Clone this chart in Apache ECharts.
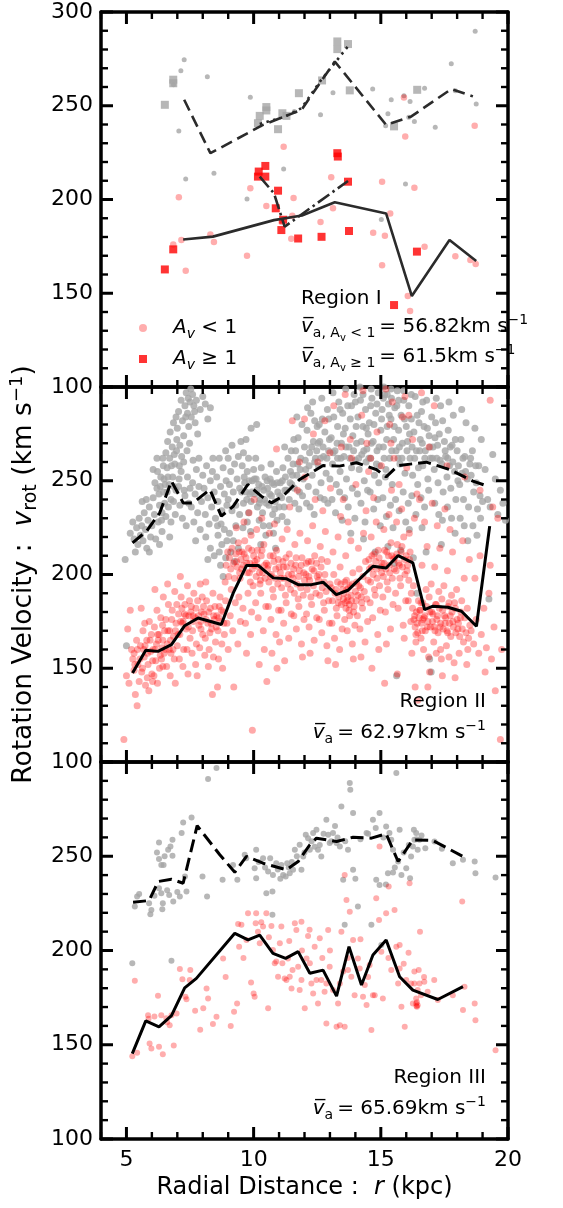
<!DOCTYPE html>
<html><head><meta charset="utf-8">
<script src="https://cdn.jsdelivr.net/npm/echarts@6/dist/echarts.min.js"></script>
<style>html,body{margin:0;padding:0;background:#fff}#c{width:563px;height:1208px}</style>
</head><body><div id="c"></div>
<script>
// ---------- tick labels / tick positions ----------
const xTickLabels = [5, 10, 15, 20];
const yTickValues = [100, 150, 200, 250, 300];
const xMinorTicks = [4,5,6,7,8,9,10,11,12,13,14,15,16,17,18,19,20];
const yMinorTicks = [100,110,120,130,140,150,160,170,180,190,200,210,220,230,240,250,260,270,280,290,300];

// ---------- Region I (top) ----------
const topGreyCircles = [[7.27,274.5],[7.14,268.7],[6.85,261.2],[7.06,236.6],[7.33,211],[8.18,265.5],[8.44,214],[9.87,254.6],[9.74,200.3],[11.18,216.3],[12.63,245.2],[13.12,256.9],[14.68,258.9],[15.02,189.4],[15.19,239.3],[15.28,245.7],[15.41,253.2],[15.91,255.3],[15.97,208.3],[16.15,252.3],[16.1,243.9],[16.32,241.6],[16.72,259.4],[17.14,238.6],[17.77,272.4],[17.93,258],[18.71,289.7],[18.75,250.9],[11.6,247]];
const topGreySquares = [[6.51,250.5],[6.84,263.9],[6.84,262],[10.24,244.6],[10.17,240.7],[10.5,249.3],[10.5,247.5],[10.96,237.5],[11.13,246],[11.29,244.6],[11.78,256.7],[12.69,263.5],[13.29,284.3],[13.29,280.2],[13.71,282.9],[13.78,258.2],[15.52,239],[16.43,258.5]];
const topPinkCircles = [[7.06,201.2],[6.84,176],[7.16,178.4],[7.33,162],[8.3,181.4],[8.44,177.3],[9.87,206],[9.74,170],[10.5,196.5],[11.18,228.2],[11.57,200.8],[11.52,191.4],[11.48,179.1],[12.63,188],[13.12,195.3],[13.05,211.9],[14.7,182.3],[15.16,180.7],[15.05,209.5],[15.05,165],[15.37,192.6],[15.91,254.4],[15.96,233.6],[16.32,206.3],[16.06,148.6],[16.15,140.6],[16.72,174.8],[17.93,169.7],[18.52,167.7],[18.73,165.6],[18.69,239.3],[11.1,188]];
const topRedSquares = [[6.51,162.7],[6.84,173.4],[10.17,212.2],[10.2,214.9],[10.46,217.9],[10.46,212.2],[10.96,204.7],[10.87,195.3],[11.09,183.7],[11.16,189.2],[11.75,179.2],[12.67,180.1],[13.29,224.7],[13.31,222.9],[13.71,209.5],[13.75,183.2],[15.52,143.7],[16.42,172.2]];
const topDashed = [[7.27,253.2],[8.3,224.7],[10.37,239.8],[11.88,247.8],[13.19,273.6],[15.21,239.8],[16.2,244.3],[17.77,258.9],[18.62,255]];
const topDotted = [[10.24,240.3],[11.2,244],[11.88,248.7],[12.66,263.9],[13.19,272.8],[13.71,281.7]];
const topSolid = [[7.23,178.7],[8.4,180.2],[10.8,189],[11.9,191.5],[13.19,198.5],[15.21,192.5],[16.22,148.5],[17.7,178.4],[18.75,167.2]];
const topDashDot = [[10.24,212.2],[10.8,203.3],[11.22,185.5],[13.71,209.9]];

// ---------- Region II (middle) ----------
const midGrey = [[4.95,208],[5.0,162],[5.15,222],[5.25,228],[5.3,219],[5.4,225],[5.45,216],[5.5,230],[5.35,212],
[5.55,221],[5.6,226],[5.65,218],[5.7,233],[5.75,224],[5.8,214],[5.85,229],[5.9,236],[5.95,220],[5.62,239],[5.78,240],[5.9,212],
[6.0,226],[6.05,241],[6.1,232],[6.15,219],[6.2,246],[6.25,228],[6.3,237],[6.35,252],[6.4,223],[6.45,244],[6.05,256],[6.2,262],[6.3,216],[6.4,233],[6.45,258],[6.5,238],[6.12,249],[6.28,243],[6.38,229],[6.48,251],
[6.55,265],[6.6,257],[6.62,271],[6.68,248],[6.7,262],[6.72,276],[6.75,240],[6.8,268],[6.82,252],[6.85,281],[6.9,259],[6.95,245],[6.98,272],[6.55,231],[6.65,236],[6.75,228],[6.85,239],[6.92,232],[6.6,244],[6.88,264],[6.7,220],[6.95,284],
[7.0,278],[7.05,287],[7.1,269],[7.15,293],[7.2,282],[7.25,274],[7.3,290],[7.35,297],[7.4,286],[7.45,279],[7.5,292],[7.05,247],[7.1,237],[7.15,255],[7.2,230],[7.3,242],[7.35,226],[7.4,252],[7.45,238],[7.5,246],[7.25,260],[7.38,266],[7.08,258],[7.48,270],
[7.55,284],[7.6,296],[7.65,290],[7.7,281],[7.75,293],[7.8,275],[7.9,288],[8.0,295],[7.55,236],[7.6,249],[7.65,228],[7.7,243],[7.75,256],[7.8,233],[7.85,247],[7.9,224],[7.95,239],[8.0,253],[7.62,261],[7.85,262],[7.72,218],
[8.1,291],[8.2,283],[8.3,289],[8.05,246],[8.1,232],[8.15,258],[8.2,241],[8.25,227],[8.3,250],[8.35,236],[8.4,262],[8.45,244],[8.5,230],[8.12,220],[8.3,214],[8.45,210],[8.2,208],[8.38,255],
[8.55,252],[8.6,239],[8.65,262],[8.7,247],[8.75,234],[8.8,257],[8.85,243],[8.9,266],[8.95,237],[8.6,221],[8.65,212],[8.7,205],[8.75,216],[8.8,199],[8.85,224],[8.9,209],[8.95,218],[8.58,226],[8.72,227],[8.92,250],
[9.0,262],[9.05,248],[9.1,255],[9.15,269],[9.2,244],[9.25,259],[9.3,237],[9.35,251],[9.4,263],[9.45,246],[9.5,271],[9.05,222],[9.1,212],[9.2,218],[9.3,226],[9.4,214],[9.15,234],[9.45,232],[9.25,207],[9.0,240],
[9.55,258],[9.6,265],[9.65,249],[9.7,272],[9.75,255],[9.8,262],[9.85,243],[9.9,278],[9.95,250],[9.6,238],[9.7,244],[9.8,233],[9.9,239],[10.0,256],[9.58,225],[9.75,228],[9.88,223],
[10.05,243],[10.1,251],[10.15,236],[10.2,248],[10.25,240],[10.3,257],[10.35,233],[10.4,245],[10.45,252],[10.5,238],[10.08,262],[10.22,229],[10.38,226],[10.12,280],[10.48,221],[10.28,216],
[10.55,246],[10.6,237],[10.65,251],[10.7,242],[10.75,232],[10.8,248],[10.85,239],[10.9,255],[10.95,244],[11.0,236],[10.62,226],[10.78,222],[10.92,229],[10.68,259],[10.86,214],
[11.05,249],[11.1,241],[11.15,257],[11.2,236],[11.25,252],[11.3,245],[11.35,262],[11.4,240],[11.45,255],[11.5,248],[11.12,231],[11.32,228],[11.48,266],[11.22,268],
[11.55,259],[11.6,246],[11.65,266],[11.7,253],[11.75,273],[11.8,244],[11.85,262],[11.9,280],[11.95,251],[12.0,268],[11.62,238],[11.78,235],[11.92,242],[11.7,284],[11.58,272],
[12.05,256],[12.1,277],[12.15,247],[12.2,265],[12.25,286],[12.3,253],[12.35,271],[12.4,260],[12.45,244],[12.5,279],[12.08,238],[12.22,236],[12.38,232],[12.48,266],[12.12,289],[12.32,292],
[12.55,258],[12.6,271],[12.65,249],[12.7,283],[12.75,263],[12.8,276],[12.85,254],[12.9,288],[12.95,266],[13.0,251],[12.62,241],[12.78,240],[12.92,238],[12.68,294],[12.58,280],
[13.05,273],[13.1,259],[13.15,284],[13.2,266],[13.25,248],[13.3,279],[13.35,292],[13.4,255],[13.45,270],[13.5,286],[13.08,240],[13.22,233],[13.38,244],[13.48,229],[13.12,297],[13.3,262],
[13.55,263],[13.6,278],[13.65,251],[13.7,290],[13.75,268],[13.8,283],[13.85,257],[13.9,274],[13.95,296],[14.0,261],[13.58,241],[13.72,236],[13.88,246],[13.98,230],[13.62,299],[13.82,222],
[14.05,270],[14.1,284],[14.15,256],[14.2,293],[14.25,264],[14.3,279],[14.35,250],[14.4,288],[14.45,267],[14.5,275],[14.08,243],[14.22,238],[14.38,228],[14.48,245],[14.18,300],[14.32,219],[14.42,260],
[14.55,281],[14.6,262],[14.65,294],[14.7,271],[14.75,253],[14.8,286],[14.85,266],[14.9,297],[14.95,258],[15.0,277],[14.58,244],[14.72,235],[14.88,240],[14.98,226],[14.62,299],[14.78,212],[14.92,249],
[15.05,288],[15.1,268],[15.15,296],[15.2,256],[15.25,279],[15.3,291],[15.35,262],[15.4,283],[15.45,248],[15.5,272],[15.08,241],[15.22,231],[15.38,237],[15.48,225],[15.12,300],[15.28,215],[15.42,294],[15.18,252],
[15.55,289],[15.6,266],[15.65,298],[15.7,277],[15.75,259],[15.8,285],[15.85,270],[15.9,293],[15.95,254],[16.0,279],[15.58,240],[15.72,234],[15.88,244],[15.98,228],[15.62,146],[15.52,206],[15.78,213],[15.68,262],
[16.05,271],[16.1,290],[16.15,262],[16.2,283],[16.25,253],[16.3,276],[16.35,295],[16.4,266],[16.45,248],[16.5,281],[16.08,238],[16.22,242],[16.38,232],[16.48,257],[16.12,224],[16.28,209],[16.42,190],
[16.55,272],[16.6,287],[16.65,258],[16.7,279],[16.75,266],[16.8,293],[16.85,251],[16.9,274],[16.95,262],[17.0,284],[16.58,241],[16.72,236],[16.88,245],[16.62,225],[16.78,212],[16.92,155],[16.98,148],
[17.05,268],[17.1,256],[17.15,281],[17.2,262],[17.25,249],[17.3,275],[17.35,290],[17.4,259],[17.45,244],[17.5,271],[17.12,238],[17.28,232],[17.42,229],[17.18,294],[17.38,216],
[17.55,263],[17.6,252],[17.65,277],[17.7,258],[17.75,246],[17.8,269],[17.85,285],[17.9,255],[17.95,240],[18.0,266],[17.62,236],[17.78,230],[17.92,222],[17.68,292],
[18.05,258],[18.1,248],[18.15,272],[18.2,254],[18.25,240],[18.3,263],[18.35,281],[18.4,251],[18.45,236],[18.5,259],[18.12,230],[18.28,226],[18.42,218],[18.18,288],
[18.55,253],[18.6,266],[18.65,244],[18.7,278],[18.75,249],[18.8,235],[18.85,258],[18.9,242],[18.95,272],[19.0,239],[18.62,226],[18.78,221],[18.92,230],
[19.1,256],[19.2,240],[19.3,236],[19.5,251],[19.6,232],[19.7,245],[19.8,238],[19.4,264],[19.25,187],[19.9,229],
[6.22,255],[6.33,247],[6.43,262],[6.52,248],[6.63,252],[6.77,258],[6.87,247],[6.97,266],[7.07,251],[7.17,263],[7.27,245],[7.33,284],[7.43,294],[7.53,299],[7.68,287],[9.53,244],[9.63,252],[9.73,240],[9.83,250],[9.93,244],[10.03,251],[10.13,245],[10.23,238],[10.33,247],[10.43,240],[10.53,250],[10.63,243],[10.73,249],[10.83,235],[10.93,249],[11.03,242],[11.13,250],[11.23,245],[11.43,249],[11.53,253],[11.73,259],[11.83,256],[12.03,261],[12.18,258],[12.28,268],[12.43,262],[12.53,270],[12.63,262],[12.73,268],[12.88,262],[12.98,272],[13.13,265],[13.28,270],[13.43,262],[13.53,275],[13.63,268],[13.78,262],[13.93,266],[14.03,279],[14.13,262],[14.23,271],[14.33,266],[14.43,278],[14.53,262],[14.63,270],[14.73,280],[14.83,259],[14.93,268],[15.03,283],[15.13,262],[15.23,272],[15.33,285],[15.43,266],[15.53,279],[15.63,290],[15.73,268],[15.83,262],[15.93,283],[16.03,266],[16.13,275],[16.23,268],[16.33,262],[16.43,285],[16.53,266],[16.63,270],[16.73,262],[16.83,278],[16.93,268],[17.03,262],[17.13,273],[17.23,269],[17.33,261],[17.43,282],[17.53,266],[17.63,262],[17.73,268],[17.83,260],[17.93,272],[18.03,250],[18.23,262],[18.33,255],[18.53,262],[18.73,258],[14.0,292],[14.6,290],[15.1,294],[15.7,293],[15.4,299],[14.3,296],[13.4,288],[12.95,283],[12.4,282],[16.2,296],[16.65,292],[13.85,290],[15.9,298],[14.85,291],[15.25,296]];

const midRed = [[4.9,112],[5.0,146],[5.05,171],[5.1,142],[5.2,160],[5.25,155],[5.3,149],[5.35,136],[5.4,165],[5.45,152],[5.5,143],[5.15,181],[5.3,158],[5.42,130],
[5.55,162],[5.6,148],[5.65,170],[5.7,156],[5.75,141],[5.8,165],[5.85,152],[5.9,175],[5.95,159],[6.0,147],[5.58,182],[5.72,174],[5.88,138],[5.68,160],[5.82,145],[5.98,168],
[6.05,160],[6.1,172],[6.15,154],[6.2,181],[6.25,165],[6.3,150],[6.35,177],[6.4,161],[6.45,188],[6.5,170],[6.08,146],[6.22,142],[6.38,155],[6.48,158],[6.12,192],[6.28,168],[6.42,173],[6.18,163],
[6.55,176],[6.6,163],[6.65,184],[6.7,170],[6.75,158],[6.8,181],[6.85,167],[6.9,191],[6.95,174],[7.0,162],[6.58,151],[6.72,146],[6.88,155],[6.98,184],[6.62,195],[6.78,176],[6.92,142],[6.68,160],
[7.05,179],[7.1,168],[7.15,188],[7.2,174],[7.25,160],[7.3,184],[7.35,171],[7.4,194],[7.45,178],[7.5,166],[7.08,155],[7.22,151],[7.38,160],[7.48,186],[7.12,199],[7.28,179],[7.42,147],[7.18,182],
[7.55,183],[7.6,170],[7.65,190],[7.7,177],[7.75,163],[7.8,186],[7.85,173],[7.9,195],[7.95,180],[8.0,168],[7.58,158],[7.72,152],[7.88,161],[7.98,188],[7.62,178],[7.78,146],[7.92,175],
[8.05,179],[8.1,166],[8.15,186],[8.2,174],[8.25,160],[8.3,182],[8.35,171],[8.4,190],[8.45,176],[8.5,164],[8.08,157],[8.22,151],[8.38,136],[8.48,183],[8.12,196],[8.28,169],[8.42,156],
[8.55,178],[8.6,170],[8.65,183],[8.7,175],[8.75,163],[8.8,180],[8.85,168],[8.9,186],[8.95,174],[9.0,160],[8.62,155],[8.78,150],[8.92,205],[8.98,212],[8.68,188],[8.88,196],[8.58,140],
[9.05,209],[9.1,203],[9.15,214],[9.2,206],[9.25,198],[9.3,211],[9.35,204],[9.4,217],[9.45,201],[9.5,208],[9.08,178],[9.18,170],[9.28,185],[9.38,163],[9.48,175],[9.12,192],[9.32,225],[9.42,188],[9.22,140],[9.02,199],
[9.55,212],[9.6,205],[9.65,218],[9.7,209],[9.75,201],[9.8,214],[9.85,206],[9.9,221],[9.95,203],[10.0,210],[9.58,182],[9.68,174],[9.78,190],[9.88,168],[9.98,194],[9.62,228],[9.82,233],[9.72,158],[9.92,180],[9.95,117],
[10.05,207],[10.1,199],[10.15,213],[10.2,204],[10.25,195],[10.3,210],[10.35,201],[10.4,216],[10.45,198],[10.5,206],[10.08,185],[10.18,177],[10.28,190],[10.38,170],[10.48,183],[10.12,224],[10.32,230],[10.42,160],[10.22,152],[10.02,240],
[10.55,203],[10.6,196],[10.65,210],[10.7,200],[10.75,192],[10.8,207],[10.85,198],[10.9,213],[10.95,195],[11.0,204],[10.58,183],[10.68,176],[10.78,188],[10.88,168],[10.98,181],[10.62,222],[10.82,227],[10.72,158],[10.92,150],[10.52,143],
[11.05,201],[11.1,193],[11.15,207],[11.2,198],[11.25,189],[11.3,204],[11.35,195],[11.4,211],[11.45,192],[11.5,200],[11.08,181],[11.18,174],[11.28,185],[11.38,166],[11.48,179],[11.12,219],[11.32,224],[11.42,236],[11.22,154],[11.02,164],
[11.55,198],[11.6,190],[11.65,205],[11.7,195],[11.75,187],[11.8,202],[11.85,193],[11.9,209],[11.95,189],[12.0,197],[11.58,178],[11.68,171],[11.78,183],[11.88,163],[11.98,176],[11.62,216],[11.82,222],[11.72,245],[11.92,156],[11.52,282],
[12.05,200],[12.1,192],[12.15,207],[12.2,197],[12.25,188],[12.3,203],[12.35,194],[12.4,210],[12.45,190],[12.5,199],[12.08,179],[12.18,172],[12.28,184],[12.38,165],[12.48,177],[12.12,218],[12.32,226],[12.42,240],[12.22,158],[12.02,252],[12.35,275],
[12.55,197],[12.6,189],[12.65,204],[12.7,193],[12.75,185],[12.8,200],[12.85,191],[12.9,207],[12.95,186],[13.0,195],[12.58,176],[12.68,169],[12.78,181],[12.88,162],[12.98,174],[12.62,215],[12.82,223],[12.72,234],[12.92,154],[12.52,260],[12.8,282],
[13.05,193],[13.1,186],[13.15,200],[13.2,190],[13.25,182],[13.3,196],[13.35,188],[13.4,204],[13.45,184],[13.5,192],[13.08,174],[13.18,166],[13.28,178],[13.38,160],[13.48,171],[13.12,212],[13.32,220],[13.42,231],[13.22,152],[13.02,246],[13.45,268],[13.15,290],
[13.55,190],[13.6,185],[13.65,197],[13.7,188],[13.75,181],[13.8,194],[13.85,186],[13.9,201],[13.95,183],[14.0,191],[13.58,176],[13.68,170],[13.78,178],[13.88,163],[13.98,173],[13.62,210],[13.82,218],[13.72,228],[13.92,155],[13.52,240],[13.85,262],[13.66,192],[13.76,184],
[14.05,196],[14.1,189],[14.15,203],[14.2,193],[14.25,185],[14.3,199],[14.35,191],[14.4,207],[14.45,187],[14.5,197],[14.08,178],[14.18,171],[14.28,182],[14.38,164],[14.48,175],[14.12,214],[14.32,222],[14.42,234],[14.22,156],[14.02,248],[14.45,270],[14.25,285],
[14.55,203],[14.6,196],[14.65,210],[14.7,200],[14.75,192],[14.8,207],[14.85,198],[14.9,213],[14.95,194],[15.0,204],[14.58,185],[14.68,177],[14.78,189],[14.88,168],[14.98,181],[14.62,220],[14.82,228],[14.72,241],[14.92,160],[14.52,255],[14.85,276],[14.65,150],
[15.05,206],[15.1,199],[15.15,213],[15.2,203],[15.25,196],[15.3,210],[15.35,201],[15.4,217],[15.45,198],[15.5,208],[15.08,188],[15.18,180],[15.28,192],[15.38,171],[15.48,184],[15.12,224],[15.32,232],[15.42,245],[15.22,163],[15.02,258],[15.35,280],[15.15,142],[15.45,292],
[15.55,209],[15.6,202],[15.65,216],[15.7,206],[15.75,198],[15.8,212],[15.85,204],[15.9,220],[15.95,200],[16.0,210],[15.58,190],[15.68,182],[15.78,194],[15.88,173],[15.98,186],[15.62,228],[15.82,235],[15.72,248],[15.92,166],[15.52,262],[15.85,284],[15.65,147],[15.95,295],
[16.05,205],[16.1,197],[16.15,212],[16.2,190],[16.25,182],[16.3,176],[16.35,172],[16.4,180],[16.45,169],[16.5,177],[16.08,186],[16.18,175],[16.28,194],[16.38,164],[16.48,186],[16.12,222],[16.32,230],[16.42,243],[16.22,158],[16.02,257],[16.35,140],[16.45,133],[16.25,272],
[16.55,181],[16.6,174],[16.65,185],[16.7,177],[16.75,170],[16.8,183],[16.85,175],[16.9,188],[16.95,172],[17.0,180],[16.58,166],[16.68,160],[16.78,192],[16.88,156],[16.98,195],[16.62,205],[16.82,215],[16.72,228],[16.92,148],[16.52,240],[16.85,140],[16.65,176],
[17.05,179],[17.1,172],[17.15,184],[17.2,176],[17.25,169],[17.3,182],[17.35,174],[17.4,187],[17.45,171],[17.5,178],[17.08,164],[17.18,158],[17.28,191],[17.38,155],[17.48,194],[17.12,204],[17.32,214],[17.22,226],[17.42,146],[17.02,238],[17.35,160],
[17.55,177],[17.6,170],[17.65,183],[17.7,174],[17.75,167],[17.8,180],[17.85,172],[17.9,185],[17.95,169],[18.0,176],[17.58,162],[17.68,156],[17.78,189],[17.88,153],[17.98,192],[17.62,202],[17.82,212],[17.72,224],[17.92,145],[17.52,235],
[18.05,174],[18.1,167],[18.15,180],[18.2,171],[18.25,164],[18.3,177],[18.35,169],[18.4,182],[18.45,166],[18.5,173],[18.08,158],[18.18,186],[18.28,198],[18.38,152],[18.48,208],[18.22,218],[18.42,160],
[18.55,170],[18.65,163],[18.75,176],[18.85,158],[18.95,168],[19.05,182],[19.15,161],[19.25,190],[19.35,155],[19.45,172],[18.7,198],[18.9,210],[19.1,148],[19.3,205],[19.5,138],[19.6,230],[19.7,112],[19.75,160],
[13.6,296],[14.3,298],[15.2,299],[16.6,297],[17.1,290],[19.3,293],[12.0,283],[10.9,267],[11.8,260],[13.0,265],[13.8,272],[14.6,262],[15.4,270],[16.1,285],[16.9,268],[17.6,258],[18.3,252],[18.9,245],[19.4,236],
[9.33,207],[9.43,212],[9.53,203],[9.63,211],[9.73,206],[9.83,201],[9.93,213],[10.03,205],[10.13,208],[10.23,201],[10.33,213],[10.43,205],[9.47,198],[9.87,196],[10.27,197],
[10.57,205],[10.67,199],[10.77,210],[10.87,203],[10.97,208],[11.07,198],[11.17,204],[11.27,209],[11.37,200],[11.47,206],[11.57,203],[11.67,209],[11.77,199],[11.87,205],[11.97,201],[12.07,206],[12.17,199],[12.27,207],[12.37,202],[12.47,206],[12.57,200],[12.67,208],[12.77,196],
[13.23,192],[13.33,185],[13.43,195],[13.53,187],[13.63,182],[13.73,193],[13.83,189],[13.93,180],[14.03,186],[14.13,194],[14.23,188],[13.58,196],[13.88,195],[13.68,186],
[14.53,208],[14.63,204],[14.73,211],[14.83,203],[14.93,209],[15.03,201],[15.13,206],[15.23,212],[15.33,205],[15.43,210],[15.53,203],[15.63,211],[15.73,205],[15.83,215],[15.93,208],[16.03,202],[16.13,208],
[16.33,178],[16.43,174],[16.53,181],[16.63,170],[16.73,178],[16.83,172],[16.93,180],[17.03,175],[17.13,170],[17.23,178],[17.33,172],[17.43,181],[17.53,174],[17.63,169],[17.73,178],[17.83,175],[17.93,182],[18.03,171],[18.13,177],[16.38,168],[16.58,185],[17.18,184],[17.68,185],
[5.33,152],[5.43,160],[5.53,155],[5.63,150],[5.73,162],[5.83,158],[5.93,165],[6.03,154],[6.13,160],[6.23,168],[6.33,157],[6.43,165],[6.53,160],[6.63,170],[6.73,165],[6.83,160],[6.93,170],[7.03,168],[7.13,175],[6.03,143],[6.43,151],
[7.23,175],[7.33,178],[7.43,172],[7.53,180],[7.63,175],[7.73,182],[7.83,178],[7.93,171],[8.03,183],[8.13,176],[8.23,180],[8.33,174],[8.43,178],[8.53,172],[8.63,177],[8.73,181],[8.83,174]];

const midDashed = [[5.24,216.9],[5.79,223.1],[6.31,232.9],[6.77,249.8],[7.23,238.2],[7.62,238.2],[8.28,245.3],[8.73,231.1],[9.2,236.4],[9.77,248],[10.3,241.8],[10.7,238.2],[11.15,241.8],[11.81,250.7],[12.73,258.1],[13.38,257.8],[14.04,259.6],[14.82,256],[15.21,252.1],[15.68,258.1],[16.79,259.9],[17.7,256],[18.62,249.8],[19.21,247.1]];
const midSolid = [[5.24,147.5],[5.76,159.6],[6.24,159],[6.77,162.6],[7.29,172.7],[7.82,176.8],[8.73,173.3],[9.2,190.2],[9.72,204.8],[10.18,204.8],[10.77,198.2],[11.3,197.7],[11.75,194.6],[12.28,194.6],[12.73,195.9],[13.25,189.3],[13.71,191.6],[14.17,197.7],[14.69,204.4],[15.21,203.5],[15.68,210.1],[16.26,206.2],[16.72,181.3],[17.05,183.1],[17.64,182.5],[18.17,180.4],[18.76,172.4],[19.28,225.8]];

// ---------- Region III (bottom) ----------
const botGrey = [[5.33,223.3],[5.42,228.6],[5.89,225.1],[5.94,219.2],[5.98,221.5],[6.28,257.3],[6.28,248.6],[6.37,245.4],[6.46,245.4],[6.28,233.0],[6.37,230.4],[6.41,221.9],[6.43,225.1],[6.64,253.4],[6.73,255.2],[6.81,258.7],[6.81,250.2],[6.68,229.5],[6.84,226],[7.1,228.6],[7.17,262.3],[7.23,267.9],[7.3,239.2],[7.36,231.3],[7.56,270.6],[7.99,239.2],[8.17,228.6],[8.21,291],[8.54,296.8],[8.78,237.5],[9.19,245.4],[9.36,237.5],[9.65,250.8],[9.71,249],[10.04,243.7],[10.1,253.4],[10.1,238.3],[10.37,249],[10.5,230.4],[10.57,241.9],[10.74,231.3],[10.76,240.1],[10.89,246.3],[11.09,245.4],[11.16,240.1],[11.26,239.2],[11.32,246.3],[11.42,241],[11.55,242.8],[11.62,253.4],[11.81,256.1],[11.88,242.8],[11.95,249.9],[12.05,261.4],[12.14,259.6],[12.21,253.4],[12.34,262.3],[12.47,264],[12.53,253.4],[12.66,249.9],[12.86,269.4],[12.93,261.4],[12.99,257],[13.12,262.3],[13.26,257],[13.39,255.2],[13.45,276.4],[13.52,237.5],[13.58,213.6],[13.71,253.4],[13.78,288.8],[13.8,285.3],[13.91,272.9],[13.91,242.8],[14.1,223.3],[14.44,262.3],[14.63,213.6],[14.69,269.4],[14.82,237.5],[14.95,234.8],[14.95,272.9],[15.02,202.9],[15.21,265.8],[15.28,241],[15.34,262.3],[15.41,258.7],[15.48,241.4],[15.48,253.4],[15.61,294.2],[15.68,247.2],[15.74,264],[15.81,240.1],[16.0,243.7],[16.15,238.3],[16.19,249.9],[16.26,255.2],[16.32,258.7],[16.39,262.3],[16.45,253.4],[16.52,258.7],[16.75,254.3],[17.11,257.8],[17.83,246.3],[18.23,248.1],[18.69,247.2],[18.72,241],[19.51,238.7],[5.23,193.2],[6.77,194.6],[10.74,218.9],
[10.2,247],[10.45,244],[10.65,249],[10.95,243],[11.05,238],[11.38,244],[11.5,247],[12.0,252],[12.28,258],[12.6,256],[12.75,262],[13.05,258],[13.6,258],[14.2,259],[14.5,262],[14.8,265],[15.1,260],[16.1,256],[16.4,259],[16.6,261],[16.3,264],[17.4,254],[15.9,252],[15.55,244],[13.3,260],[12.4,255],[11.7,250],[6.5,250],[6.6,232],[7.0,231],[5.5,230],[6.1,229],[6.2,252],[13.2,266],[14.0,238],[15.2,235]];
const botRed = [[5.23,143.9],[5.33,184],[5.42,145.7],[5.85,165.7],[5.87,163.8],[5.91,150.7],[5.98,148],[6.24,176],[6.28,149],[6.37,165.7],[6.43,145],[6.57,164],[6.7,160.4],[6.77,165.7],[6.86,149.6],[6.97,166.6],[7.1,190.2],[7.2,184.7],[7.32,175.5],[7.36,174.1],[7.51,189.7],[7.49,184.3],[8.02,169.3],[8.15,179.9],[8.21,174.6],[8.54,164.8],[8.8,195.8],[9.23,167.5],[9.35,171.9],[9.39,214.1],[9.43,202],[9.52,213.6],[9.72,205.6],[9.78,219.8],[10.0,177.2],[10.04,175.5],[10.08,214.4],[10.1,219.8],[10.17,210],[10.24,203.8],[10.37,212.7],[10.5,219.8],[10.57,169.3],[10.7,213],[10.76,200.3],[10.83,193.2],[10.89,194.1],[10.96,186.1],[11.03,203.8],[11.09,212.7],[11.13,193.2],[11.22,185.2],[11.29,184.3],[11.35,195.8],[11.42,186.1],[11.49,179.9],[11.53,189.6],[11.62,214.4],[11.68,210.9],[11.75,191.4],[11.81,179],[11.88,215.3],[11.88,184.3],[12.01,169.3],[12.08,195.8],[12.14,207.7],[12.21,193.2],[12.27,182.5],[12.34,177.2],[12.4,202],[12.47,184.3],[12.53,171.9],[12.6,206.5],[12.66,184.3],[12.79,178.1],[12.86,182.5],[12.86,161.3],[12.93,210.9],[12.99,191.4],[13.12,179],[13.26,159.5],[13.32,171.9],[13.39,182.5],[13.39,160.4],[13.45,210],[13.52,188.8],[13.58,159.5],[13.58,240.1],[13.65,226.8],[13.71,189.7],[13.78,220.6],[13.84,186.1],[13.91,205.6],[13.97,176.3],[14.1,195.8],[14.17,190.5],[14.3,175.5],[14.37,181.7],[14.44,171.1],[14.56,192.3],[14.63,157.8],[14.69,176.3],[14.76,176.3],[14.82,227.7],[14.93,216.2],[14.95,255.2],[15.02,199.4],[15.08,174.6],[15.21,219.8],[15.31,233.9],[15.41,189.7],[15.54,221.5],[15.61,202],[15.68,182.5],[15.74,202.9],[15.74,190.5],[15.81,170.2],[15.94,159.5],[16.0,184.3],[16.13,235.7],[16.19,182.5],[16.26,171.9],[16.32,188.8],[16.32,182.5],[16.39,174.6],[16.39,171.9],[16.42,170.2],[16.45,179],[16.49,189.7],[16.52,182.5],[16.54,210],[16.58,176.3],[16.71,183.4],[16.84,178.1],[17.1,184.3],[17.24,173.7],[17.83,176.3],[18.2,226],[18.23,168.4],[18.29,180.8],[18.69,171.9],[18.72,163],[19.51,147.1],[16.09,198.8],[16.4,170.5],[16.42,172.5],[16.45,171],
[9.6,196],[9.9,183],[10.3,215],[10.6,207],[11.4,205],[11.9,200],[12.2,211],[12.7,196],[13.0,200],[13.7,196],[14.2,206],[14.5,186],[15.3,196],[15.9,193],[16.7,186],[9.1,160],[8.9,186],[7.7,168],[8.4,161],[6.1,165],[6.6,162],[7.9,158]];
const botDashed = [[5.26,225.6],[5.89,226.5],[6.25,236.6],[6.77,237.8],[7.23,235.7],[7.78,266.2],[8.67,250.8],[9.26,241.5],[9.72,249.9],[10.37,246.3],[11.29,242.8],[11.75,247.2],[12.21,256.1],[12.47,259.6],[13.26,257.8],[13.91,260.1],[14.63,259.6],[15.21,261.9],[15.68,247.2],[16.26,258.7],[17.04,258.4],[18.23,249.9]];
const botSolid = [[5.23,145.3],[5.76,162.7],[6.28,159.5],[6.77,165.4],[7.29,180.2],[7.75,185.2],[9.26,209.1],[9.78,205.6],[10.24,208.2],[10.76,198.5],[11.26,195.8],[11.75,199.4],[12.21,187.9],[12.73,189.6],[13.26,175.8],[13.75,202],[14.24,181.7],[14.69,197.6],[15.21,205.6],[15.74,186.1],[16.26,179],[17.24,174],[18.23,180.8]];

// ---------- styling / layout ----------
const FF = 'DejaVu Sans';
const GREY = '#a5a5a5';
const PINK = 'rgba(255,0,0,0.4)';
const grids = [
  {left: 101, width: 407, top: 12, height: 375},
  {left: 101, width: 407, top: 387, height: 375},
  {left: 101, width: 407, top: 762, height: 377}
];
const xAxes = [], yAxes = [];
grids.forEach((g, i) => {
  const last = i === 2;
  ['bottom', 'top'].forEach(pos => {
    xAxes.push({
      gridIndex: i, type: 'value', min: 4, max: 20, interval: 1, position: pos,
      axisLine: {show: true, onZero: false, lineStyle: {color: '#000', width: 3.5}},
      axisTick: {show: false},
      axisLabel: {show: last && pos === 'bottom', margin: 10, fontSize: 22, fontFamily: FF, color: '#000',
        formatter: v => xTickLabels.indexOf(Math.round(v)) >= 0 ? String(Math.round(v)) : ''},
      splitLine: {show: false},
      name: (last && pos === 'bottom') ? 'Radial Distance :  {i|r} (kpc)' : '',
      nameLocation: 'middle', nameGap: 37,
      nameTextStyle: {fontSize: 24, fontFamily: FF, color: '#000', rich: {i: {fontStyle: 'italic', fontSize: 24, fontFamily: FF}}}
    });
  });
  ['left', 'right'].forEach(pos => {
    yAxes.push({
      gridIndex: i, type: 'value', min: 100, max: 300, interval: 50, position: pos,
      axisLine: {show: true, onZero: false, lineStyle: {color: '#000', width: 3.5}},
      axisTick: {show: false},
      axisLabel: {show: pos === 'left', margin: 8, fontSize: 22, fontFamily: FF, color: '#000', showMaxLabel: i === 0, showMinLabel: true},
      splitLine: {show: false},
      name: (i === 1 && pos === 'left') ? 'Rotation Velocity :  {i|v}{sb|rot} (km s{sp|−1})' : '',
      nameLocation: 'middle', nameGap: 41,
      nameTextStyle: {fontSize: 26.5, fontFamily: FF, color: '#000', rich: {
        i: {fontStyle: 'italic', fontSize: 26.5, fontFamily: FF},
        sb: {fontSize: 19, fontFamily: FF, padding: [13, 0, 0, 0]},
        sp: {fontSize: 18, fontFamily: FF, padding: [0, 0, 14, 0]}
      }}
    });
  });
});

function scatter(name, g, data, color, size, symbol, z) {
  return {name, type: 'scatter', xAxisIndex: g * 2, yAxisIndex: g * 2, data, symbol: symbol || 'circle',
    symbolSize: size, itemStyle: {color}, z: z || 2, silent: true, animation: false};
}
function line(name, g, data, color, width, type, z) {
  return {name, type: 'line', xAxisIndex: g * 2, yAxisIndex: g * 2, data, showSymbol: false, symbol: 'none',
    lineStyle: {color, width, type, cap: 'butt'}, z: z || 5, silent: true, animation: false};
}

const series = [
  scatter('grey1', 0, topGreyCircles, GREY, 5),
  scatter('greySq1', 0, topGreySquares, GREY, 8, 'rect'),
  scatter('Av<1', 0, topPinkCircles, PINK, 6.5),
  scatter('Av≥1', 0, topRedSquares, '#ff0000', 8, 'rect', 3),
  line('l1', 0, topDashed, '#2b2b2b', 2.6, [12, 6]),
  line('l2', 0, topDotted, '#2b2b2b', 2.6, [2.5, 4.5]),
  line('l3', 0, topSolid, '#2b2b2b', 2.6, 'solid'),
  line('l4', 0, topDashDot, '#2b2b2b', 2.6, [14, 4, 2.5, 4]),
  scatter('grey2', 1, midGrey, GREY, 7),
  scatter('red2', 1, midRed, 'rgba(255,0,0,0.42)', 7, 'circle', 3),
  line('l5', 1, midDashed, '#000', 3, [13, 6]),
  line('l6', 1, midSolid, '#000', 3, 'solid'),
  scatter('grey3', 2, botGrey, GREY, 6),
  scatter('red3', 2, botRed, 'rgba(255,0,0,0.4)', 6, 'circle', 3),
  line('l7', 2, botDashed, '#000', 3, [13, 6]),
  line('l8', 2, botSolid, '#000', 3, 'solid')
];

const richTxt = {
  v: {fontStyle: 'italic', fontSize: 20, fontFamily: FF},
  s: {fontSize: 14, fontFamily: FF, padding: [12, 0, 0, 0]},
  ss: {fontSize: 10, fontFamily: FF, padding: [22, 0, 0, 0]},
  m: {fontSize: 20, fontFamily: FF},
  p: {fontSize: 14, fontFamily: FF, padding: [0, 0, 14, 0]}
};
function txt(x, y, text, align) {
  return {type: 'text', x, y, z: 10, silent: true,
    style: {text, fill: '#000', fontSize: 20, fontFamily: FF, textAlign: align || 'left', verticalAlign: 'middle', textVerticalAlign: 'middle', rich: richTxt}};
}
const textGraphics = [
  txt(301, 299, 'Region I'),
  txt(301, 327, '{v|v\u0305}{s|a, A}{ss|v}{s| < 1}{m|\u2009= 56.82km s}{p|−1}'),
  txt(301, 357, '{v|v\u0305}{s|a, A}{ss|v}{s| ≥ 1}{m|\u2009= 61.5km s}{p|−1}'),
  txt(486, 702, 'Region II', 'right'),
  txt(486, 733, '{v|v\u0305}{s|a}{m|\u2009= 62.97km s}{p|−1}', 'right'),
  txt(486, 1078, 'Region III', 'right'),
  txt(486, 1109, '{v|v\u0305}{s|a}{m|\u2009= 65.69km s}{p|−1}', 'right')
];

const chart = echarts.init(document.getElementById('c'), null, {renderer: 'canvas'});
try {
  chart.setOption({
    animation: false,
    grid: grids,
    xAxis: xAxes,
    yAxis: yAxes,
    legend: {
      data: [{name: 'Av<1', icon: 'circle'}, {name: 'Av≥1', icon: 'rect'}],
      orient: 'vertical', left: 134, top: 313, itemWidth: 8, itemHeight: 8, itemGap: 8,
      selectedMode: false,
      formatter: n => n === 'Av<1' ? '{a|A}{b|v}{c| < 1}' : '{a|A}{b|v}{c| ≥ 1}',
      textStyle: {fontSize: 20, fontFamily: FF, color: '#000', padding: [0, 0, 0, 21],
        rich: {a: {fontStyle: 'italic', fontSize: 20, fontFamily: FF},
               b: {fontStyle: 'italic', fontSize: 14, fontFamily: FF, padding: [12, 0, 0, 0]},
               c: {fontSize: 20, fontFamily: FF}}}
    },
    graphic: textGraphics,
    series
  });
} catch (e) {
  console.log('setOption error: ' + (e && e.message));
}

// ---------- inward tick marks on all four sides of every panel ----------
// positions come from the chart's own axis scales (convertToPixel)
function toPx(g, x, y) {
  let p = null;
  try { p = chart.convertToPixel({gridIndex: g}, [x, y]); } catch (e) { p = null; }
  if (!p || !isFinite(p[0]) || !isFinite(p[1])) {
    try { p = chart.convertToPixel({xAxisIndex: g * 2, yAxisIndex: g * 2}, [x, y]); } catch (e) { p = null; }
  }
  if (!p || !isFinite(p[0]) || !isFinite(p[1])) {
    const gr = grids[g];
    p = [gr.left + (x - 4) / 16 * gr.width, gr.top + gr.height - (y - 100) / 200 * gr.height];
  }
  return p;
}
const zr = chart.getZr();
function addTick(x, y, w, h) {
  try {
    zr.add(new echarts.graphic.Rect({shape: {x, y, width: w, height: h}, style: {fill: '#000'}, z: 100, silent: true}));
  } catch (e) { console.log('tick error: ' + (e && e.message)); }
}
[0, 1, 2].forEach(g => {
  xMinorTicks.forEach(v => {
    const major = xTickLabels.indexOf(v) >= 0;
    const len = major ? 12 : 7, w = major ? 3 : 2.4;
    const pb = toPx(g, v, 100), pt = toPx(g, v, 300);
    addTick(pb[0] - w / 2, pb[1] - len, w, len);
    addTick(pt[0] - w / 2, pt[1], w, len);
  });
  yMinorTicks.forEach(v => {
    const major = yTickValues.indexOf(v) >= 0;
    const len = major ? 12 : 7, w = major ? 3 : 2.4;
    const pl = toPx(g, 4, v), pr = toPx(g, 20, v);
    addTick(pl[0], pl[1] - w / 2, len, w);
    addTick(pr[0] - len, pr[1] - w / 2, len, w);
  });
});
try { if (zr.refreshImmediately) zr.refreshImmediately(); else if (zr.flush) zr.flush(); } catch (e) {}
</script>
</body></html>
